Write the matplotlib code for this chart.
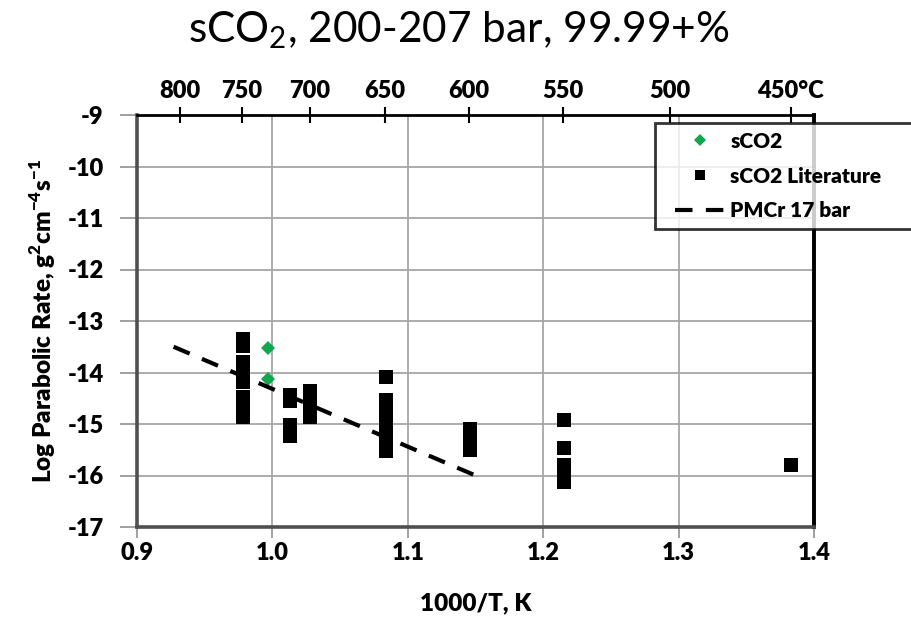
import matplotlib
matplotlib.use("Agg")
import matplotlib.pyplot as plt
from matplotlib.lines import Line2D
from matplotlib.legend_handler import HandlerLine2D

plt.rcParams['font.family'] = ['Lato', 'DejaVu Sans']
plt.rcParams['mathtext.fontset'] = 'custom'
plt.rcParams['mathtext.rm'] = 'Lato:weight=normal'
plt.rcParams['mathtext.bf'] = 'Lato:weight=heavy'

W = 'heavy'

# ---- data (x = 1000/T, K ; y = log parabolic rate) ----
lit_x = [0.978]*8 + [1.013]*4 + [1.028]*3 + [1.084]*6 + [1.146]*3 + [1.215]*5 + [1.383]
lit_y = [-13.35, -13.49, -13.80, -13.98, -14.19, -14.48, -14.66, -14.87,
         -14.44, -14.56, -15.02, -15.24,
         -14.36, -14.60, -14.87,
         -14.09, -14.53, -14.78, -15.03, -15.28, -15.53,
         -15.10, -15.30, -15.51,
         -14.92, -15.47, -15.79, -16.05, -16.13,
         -15.80]
sco2_x = [0.997, 0.997]
sco2_y = [-13.52, -14.12]
pmcr_x = [0.927, 1.150]
pmcr_y = [-13.50, -16.00]

x_ticks = [0.9, 1.0, 1.1, 1.2, 1.3, 1.4]
x_ticklabels = ["0.9", "1.0", "1.1", "1.2", "1.3", "1.4"]
y_ticks = [-17, -16, -15, -14, -13, -12, -11, -10, -9]
top_temps_c = [800, 750, 700, 650, 600, 550, 500, 450]
top_labels = ["800", "750", "700", "650", "600", "550", "500", "450°C"]


class ShiftedHandler(HandlerLine2D):
    """Legend handle drawn with extra left padding (as in the reference)."""
    def __init__(self, shift=0.5, **kw):
        super().__init__(**kw)
        self._shift = shift

    def create_artists(self, legend, orig_handle, xdescent, ydescent, width,
                       height, fontsize, trans):
        s = self._shift * fontsize
        return super().create_artists(legend, orig_handle, xdescent - s, ydescent,
                                      width - s, height, fontsize, trans)


fig = plt.figure(figsize=(9.12, 6.2), dpi=100)
ax = fig.add_axes([137/912, 1-527/620, (814-137)/912, (527-115)/620])

grid_c = '#A6A6A6'
for xv in [1.0, 1.1, 1.2, 1.3]:
    ax.axvline(xv, color=grid_c, lw=1.3, zorder=0)
for yv in [-16, -15, -14, -13, -12, -11, -10]:
    ax.axhline(yv, color=grid_c, lw=1.3, zorder=0)

ax.plot(sco2_x, sco2_y, linestyle='none', marker='D', markersize=7.2,
        color='#12A64E', markeredgewidth=0, label='sCO2', zorder=3)
ax.plot(lit_x, lit_y, linestyle='none', marker='s', markersize=9.8,
        color='black', markeredgewidth=0, label='sCO2 Literature', zorder=3)
ax.plot(pmcr_x, pmcr_y, color='black', lw=3.0, dashes=(4.2, 3.2),
        label='PMCr 17 bar', zorder=4)

ax.set_xlim(0.9, 1.4)
ax.set_ylim(-17, -9)
ax.set_xticks(x_ticks)
ax.set_xticklabels(x_ticklabels, fontweight=W)
ax.set_yticks(y_ticks)
ax.set_yticklabels([str(v) for v in y_ticks], fontweight=W)
ax.tick_params(axis='x', direction='out', length=8, width=1.2, color='#909090',
               labelsize=17, pad=3)
ax.tick_params(axis='y', direction='out', length=12, width=1.2, color='#909090',
               labelsize=17, pad=12)

ax.spines['left'].set_color('#505050')
ax.spines['left'].set_linewidth(2.6)
ax.spines['bottom'].set_color('#505050')
ax.spines['bottom'].set_linewidth(2.6)
ax.spines['right'].set_color('black')
ax.spines['right'].set_linewidth(2.8)
ax.spines['top'].set_color('black')
ax.spines['top'].set_linewidth(2.0)

ax2 = ax.twiny()
ax2.set_xlim(ax.get_xlim())
ax2.set_xticks([1000.0/(t + 273.15) for t in top_temps_c])
ax2.set_xticklabels(top_labels, fontweight=W)
ax2.tick_params(axis='x', direction='inout', length=11, width=1.5, color='black',
                labelsize=17, pad=4)
for s in ax2.spines.values():
    s.set_visible(False)

ax.set_xlabel('1000/T, K', fontsize=17.5, fontweight=W, labelpad=20)
ax.set_ylabel(r'Log Parabolic Rate, g$^{\mathbf{2}}$cm$^{\mathbf{-4}}$s$^{\mathbf{-1}}$',
              fontsize=17.5, fontweight=W, labelpad=7)

fig.text(0.503, 0.952, r'sCO$_{\mathrm{2}}$, 200-207 bar, 99.99+%', fontsize=30.5,
         ha='center', va='center', fontweight='normal')

fs_leg = 15
leg = fig.legend(loc='upper left', bbox_to_anchor=(655/912, 1 - 123/620, 0.3, 0),
                 mode='expand', frameon=True, fancybox=False,
                 prop={'weight': W, 'size': fs_leg}, handlelength=2.95,
                 handletextpad=0.24, labelspacing=0.76, borderpad=0.42,
                 borderaxespad=0, markerscale=0.8,
                 handler_map={Line2D: ShiftedHandler(shift=0.54)})
leg.get_frame().set_edgecolor('black')
leg.get_frame().set_linewidth(2.0)

fig.savefig('out.png', dpi=100)
